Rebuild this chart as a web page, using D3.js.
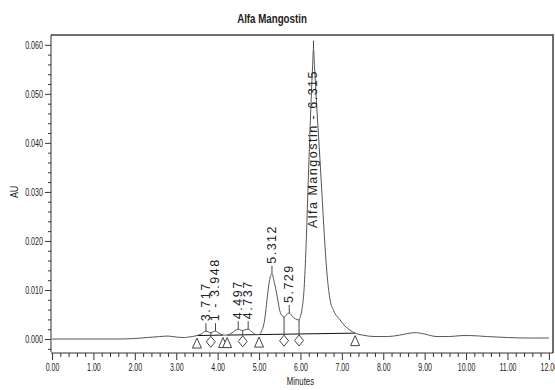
<!DOCTYPE html>
<html>
<head>
<meta charset="utf-8">
<script src="https://cdn.jsdelivr.net/npm/d3@7/dist/d3.min.js"></script>
<style>
  html, body { margin: 0; padding: 0; background: #fff; }
  svg { display: block; }
</style>
</head>
<body>
<svg id="chart" width="555" height="390"></svg>
<script>
// Chromatogram trace: retention time (minutes) and detector response (AU)
const traceTime = [
  0.0, 0.4, 0.8, 1.2, 1.6, 2.0, 2.3, 2.6, 2.8, 3.0, 3.2, 3.3,
  3.5, 3.6, 3.717, 3.78, 3.835, 3.9, 3.948, 4.03, 4.13,
  4.23, 4.35, 4.497, 4.56, 4.605, 4.66, 4.737, 4.85, 4.93, 5.0,
  5.06, 5.12, 5.16, 5.2, 5.25, 5.312, 5.37, 5.44, 5.5, 5.56, 5.604,
  5.66, 5.729, 5.8, 5.88, 5.966,
  6.0, 6.04, 6.09, 6.135, 6.18, 6.22, 6.26, 6.295, 6.315, 6.34, 6.4,
  6.47, 6.53, 6.594, 6.65, 6.715, 6.8, 6.957, 7.08, 7.198, 7.32,
  7.5, 7.8, 8.1, 8.4, 8.65, 8.8, 9.0, 9.3, 9.6, 9.9, 10.1, 10.5,
  11.0, 11.5, 12.0
];
const traceAU = [
  0.0000, 0.0000, 0.0000, 0.0000, 0.0000, 0.0001, 0.0003, 0.0005, 0.0006, 0.0004, 0.0003, 0.0004,
  0.0007, 0.0010, 0.0016, 0.0014, 0.0013, 0.0015, 0.0016, 0.0012, 0.0008,
  0.0008, 0.0013, 0.0020, 0.0018, 0.0017, 0.0019, 0.0020, 0.0013, 0.0009, 0.0009,
  0.0016, 0.0032, 0.0055, 0.0086, 0.0118, 0.0133, 0.0115, 0.0086, 0.0058, 0.0047, 0.0045,
  0.0049, 0.0053, 0.0047, 0.0041, 0.0039,
  0.0046, 0.0062, 0.0105, 0.0188, 0.0300, 0.0400, 0.0490, 0.0560, 0.0592, 0.0555, 0.0465,
  0.0368, 0.0280, 0.0188, 0.0125, 0.0080, 0.0058, 0.0039, 0.0026, 0.0018, 0.0012,
  0.0008, 0.0005, 0.0005, 0.0008, 0.0012, 0.0013, 0.0010, 0.0005, 0.0005, 0.0007, 0.0007, 0.0005,
  0.0003, 0.0002, 0.0002
];

// Integrated peaks
const peakTimes  = [3.717, 3.948, 4.497, 4.737, 5.312, 5.729, 6.315];
const peakLabels = ["3.717", "1 - 3.948", "4.497", "4.737", "5.312", "5.729", "Alfa Mangostin - 6.315"];

// Peak start / end marks (triangles) and valley drop lines (diamonds)
const boundaryTimes = [3.5, 4.13, 4.23, 5.0, 7.32];
const valleyTimes   = [3.835, 4.605, 5.604, 5.966];

// Integration baselines, as start / end times
const baselineStart = [3.5, 4.23, 5.0];
const baselineEnd   = [4.13, 5.0, 7.32];

// Axis ticks
const yMajorTicks = [0.000, 0.010, 0.020, 0.030, 0.040, 0.050, 0.060];
const yMinorTicks = [-0.002, 0.002, 0.004, 0.006, 0.008, 0.012, 0.014, 0.016, 0.018,
  0.022, 0.024, 0.026, 0.028, 0.032, 0.034, 0.036, 0.038, 0.042, 0.044, 0.046, 0.048,
  0.052, 0.054, 0.056, 0.058];
const xMajorTicks = [0, 1, 2, 3, 4, 5, 6, 7, 8, 9, 10, 11, 12];

const chartTitle = "Alfa Mangostin";
const xTitle = "Minutes";
const yTitle = "AU";

// ---- layout ----
const plot = { left: 51, right: 553, top: 35, bottom: 352, xAxisY: 353 };
const FONT = "'Liberation Sans', Arial, sans-serif";

const x = d3.scaleLinear().domain([-0.025, 12.1]).range([plot.left, plot.right]);
const y = d3.scaleLinear().domain([-0.00265, 0.0620]).range([plot.bottom, plot.top]);

const svg = d3.select("#chart");
const trace = traceTime.map((t, i) => ({ t, v: traceAU[i] }));
const valueAt = t => {
  const i = d3.bisector(d => d.t).left(trace, t);
  if (i <= 0) return trace[0].v;
  if (i >= trace.length) return trace[trace.length - 1].v;
  const a = trace[i - 1], b = trace[i];
  if (b.t === t) return b.v;
  return a.v + (b.v - a.v) * (t - a.t) / (b.t - a.t);
};
function baselineAt(t) {
  for (let i = 0; i < baselineStart.length; i++) {
    if (t >= baselineStart[i] && t <= baselineEnd[i]) {
      const a = valueAt(baselineStart[i]), b = valueAt(baselineEnd[i]);
      return a + (b - a) * (t - baselineStart[i]) / (baselineEnd[i] - baselineStart[i]);
    }
  }
  return valueAt(t);
}

// Condensed text: squeeze horizontally about the text's own anchor point
function condensed(sel, f) {
  sel.each(function () {
    const el = d3.select(this);
    const tx = +el.attr("x") || 0, ty = +el.attr("y") || 0;
    el.attr("x", null).attr("y", null)
      .attr("transform", `translate(${tx},${ty}) scale(${f},1)`);
  });
}

// Title
svg.append("text")
  .attr("x", 272).attr("y", 23)
  .attr("text-anchor", "middle")
  .attr("font-family", FONT)
  .attr("font-size", 12.5).attr("font-weight", "bold")
  .attr("fill", "#222")
  .text(chartTitle)
  .call(condensed, 0.78);

// Frame (top and right edges)
svg.append("path")
  .attr("d", `M${plot.left},${plot.top}H${plot.right}V${plot.xAxisY}`)
  .attr("fill", "none").attr("stroke", "#6e6e6e").attr("stroke-width", 2);

// Y axis
const yAxisG = svg.append("g").attr("transform", `translate(${plot.left},0)`);
yAxisG.append("g")
  .call(d3.axisLeft(y).tickValues(yMinorTicks).tickSize(3).tickFormat(""))
  .call(g => g.select(".domain").remove());
yAxisG.append("g")
  .call(d3.axisLeft(y).tickValues(yMajorTicks).tickSize(6).tickSizeOuter(0).tickPadding(2)
    .tickFormat(d3.format(".3f")))
  .call(g => g.select(".domain").attr("d", `M0,${plot.top}V${plot.bottom}`));
yAxisG.selectAll("line, path").attr("stroke", "#333");
yAxisG.selectAll("text")
  .attr("font-family", FONT).attr("font-size", 10.5).attr("fill", "#222")
  .call(condensed, 0.68);

// X axis
const xMinorTicks = d3.range(0, 60).map(i => i / 5).filter(v => Math.abs(v - Math.round(v)) > 1e-6);
const xAxisG = svg.append("g").attr("transform", `translate(0,${plot.xAxisY})`);
xAxisG.append("g")
  .call(d3.axisBottom(x).tickValues(xMinorTicks).tickSize(4).tickFormat(""))
  .call(g => g.select(".domain").remove());
xAxisG.append("g")
  .call(d3.axisBottom(x).tickValues(xMajorTicks).tickSize(7).tickSizeOuter(0).tickPadding(3)
    .tickFormat(d3.format(".2f")))
  .call(g => g.select(".domain").attr("d", `M${plot.left},0H${plot.right}`));
xAxisG.selectAll("line, path").attr("stroke", "#333");
xAxisG.selectAll("text")
  .attr("font-family", FONT).attr("font-size", 11).attr("fill", "#222")
  .call(condensed, 0.64);

// Axis titles
svg.append("text")
  .attr("transform", `translate(18,${(y(0) + y(0.06)) / 2}) rotate(-90) scale(0.85,1)`)
  .attr("text-anchor", "middle")
  .attr("font-family", FONT)
  .attr("font-size", 10.5).attr("fill", "#222")
  .text(yTitle);
svg.append("text")
  .attr("x", x(6.0)).attr("y", 385)
  .attr("text-anchor", "middle")
  .attr("font-family", FONT)
  .attr("font-size", 10.5).attr("fill", "#222")
  .text(xTitle)
  .call(condensed, 0.74);

// Integration baselines
svg.append("g").selectAll("line")
  .data(baselineStart.map((s, i) => [s, baselineEnd[i]]))
  .join("line")
  .attr("x1", d => x(d[0])).attr("y1", d => y(valueAt(d[0])))
  .attr("x2", d => x(d[1])).attr("y2", d => y(valueAt(d[1])))
  .attr("stroke", "#111").attr("stroke-width", 1);

// Chromatogram trace
svg.append("path")
  .datum(trace)
  .attr("d", d3.line().x(d => x(d.t)).y(d => y(d.v)).curve(d3.curveMonotoneX))
  .attr("fill", "none").attr("stroke", "#555").attr("stroke-width", 1);

// Valley drop lines with diamond marks
const valleyG = svg.append("g");
valleyTimes.forEach(t => {
  const cx = x(t), top = y(valueAt(t));
  const cy = y(baselineAt(t)) + 6.5;
  valleyG.append("line")
    .attr("x1", cx).attr("x2", cx).attr("y1", top).attr("y2", cy - 5.5)
    .attr("stroke", "#444");
  valleyG.append("path")
    .attr("d", `M${cx},${cy - 5.5}L${cx + 4.5},${cy}L${cx},${cy + 5.5}L${cx - 4.5},${cy}Z`)
    .attr("fill", "#fff").attr("stroke", "#444");
});

// Peak start / end triangles
svg.append("g").selectAll("path")
  .data(boundaryTimes)
  .join("path")
  .attr("d", t => {
    const cx = x(t), ty = y(valueAt(t)) + 2.5;
    return `M${cx},${ty}L${cx + 4.5},${ty + 10}L${cx - 4.5},${ty + 10}Z`;
  })
  .attr("fill", "#fff").attr("stroke", "#444");

// Peak apex ticks and rotated labels
const labelG = svg.append("g");
peakTimes.forEach((t, i) => {
  const px = x(t), py = y(valueAt(t));
  const tickTop = py - 8;
  labelG.append("line")
    .attr("x1", px).attr("x2", px).attr("y1", py).attr("y2", tickTop)
    .attr("stroke", "#444");
  const txt = labelG.append("text")
    .attr("font-family", FONT)
    .attr("font-size", 12.5).attr("letter-spacing", 1.5)
    .attr("fill", "#222")
    .attr("dominant-baseline", "central")
    .text(peakLabels[i]);
  const len = txt.node().getComputedTextLength();
  let startY = tickTop - 2;
  // A label that would run past the top edge is set inside the peak instead
  if (startY - len < plot.top + 5) startY = plot.top + 35 + len;
  txt.attr("transform", `translate(${px},${startY}) rotate(-90)`);
});
</script>
</body>
</html>
